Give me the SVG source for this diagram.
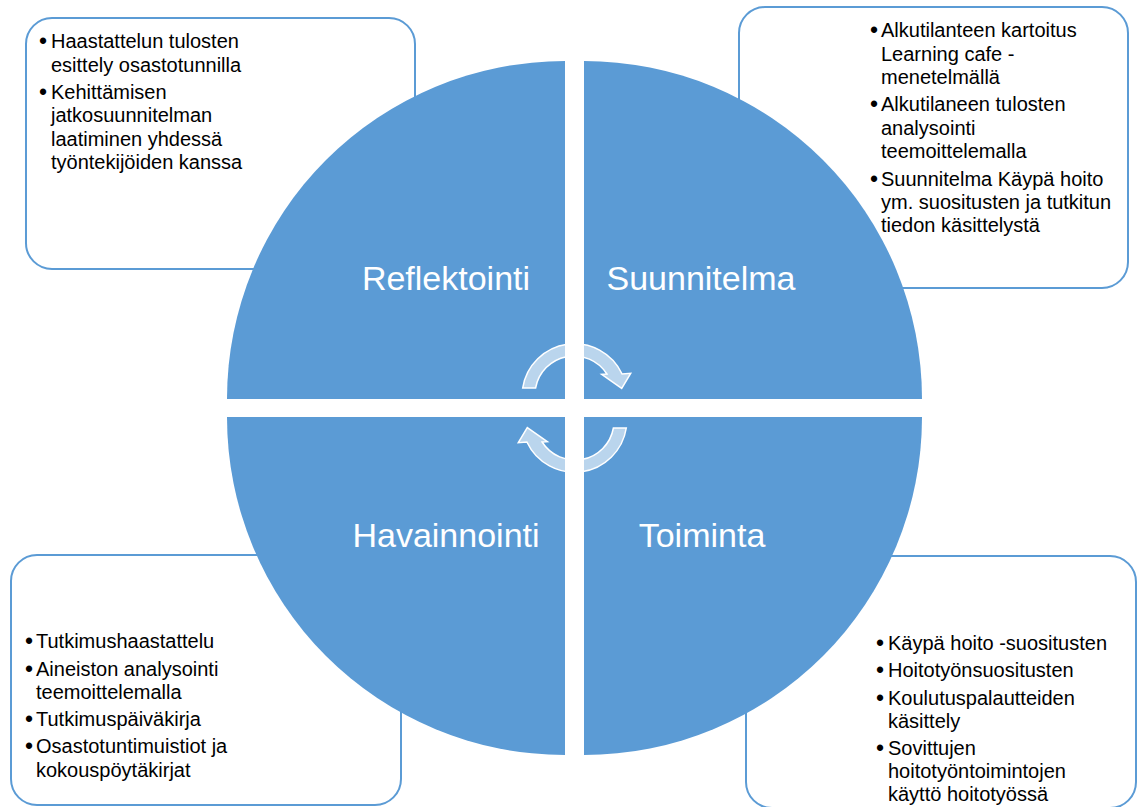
<svg xmlns="http://www.w3.org/2000/svg" width="1142" height="807" viewBox="0 0 1142 807">
<style>
.box{fill:#fff;stroke:#5b9bd5;stroke-width:2}
.q{fill:#5b9bd5}
.t{font-family:"Liberation Sans",Arial,sans-serif;font-size:20px;fill:#000}
.b{font-size:23px}
.lbl{font-family:"Liberation Sans",Arial,sans-serif;font-size:34px;fill:#fff;text-anchor:middle}
.arr{fill:#fff;fill-opacity:0.58;stroke:#fff;stroke-width:1.5;stroke-linejoin:miter}
</style>
<defs>
<path id="circArrow" d="M 522.7 388 A 52.5 52.5 0 0 1 622.1 374 L 630.7 373.3 L 621.7 388.3 L 601.7 374.3 L 606.9 374 A 39 39 0 0 0 535.6 388 Z"/>
</defs>
<rect width="1142" height="807" fill="#fff"/>
<g id="box-reflektointi">
<rect class="box" x="26" y="18" width="389" height="251" rx="26"/>
<text class="t"><tspan class="b" x="39" y="49">•</tspan><tspan x="51" y="48">Haastattelun tulosten</tspan><tspan x="51" y="72">esittely osastotunnilla</tspan><tspan class="b" x="39" y="100">•</tspan><tspan x="51" y="99">Kehittämisen</tspan><tspan x="51" y="122">jatkosuunnitelman</tspan><tspan x="51" y="146">laatiminen yhdessä</tspan><tspan x="51" y="169">työntekijöiden kanssa</tspan></text>
</g>
<g id="box-suunnitelma">
<rect class="box" x="739" y="7" width="389" height="281" rx="26"/>
<text class="t"><tspan class="b" x="870" y="38">•</tspan><tspan x="881" y="37">Alkutilanteen kartoitus</tspan><tspan x="881" y="61">Learning cafe -</tspan><tspan x="881" y="84">menetelmällä</tspan><tspan class="b" x="870" y="112">•</tspan><tspan x="881" y="111">Alkutilaneen tulosten</tspan><tspan x="881" y="135">analysointi</tspan><tspan x="881" y="158">teemoittelemalla</tspan><tspan class="b" x="870" y="187">•</tspan><tspan x="881" y="186">Suunnitelma Käypä hoito</tspan><tspan x="881" y="209">ym. suositusten ja tutkitun</tspan><tspan x="881" y="232">tiedon käsittelystä</tspan></text>
</g>
<g id="box-havainnointi">
<rect class="box" x="11" y="555" width="390" height="250" rx="26"/>
<text class="t"><tspan class="b" x="25" y="649">•</tspan><tspan x="36" y="648">Tutkimushaastattelu</tspan><tspan class="b" x="25" y="677">•</tspan><tspan x="36" y="676">Aineiston analysointi</tspan><tspan x="36" y="699">teemoittelemalla</tspan><tspan class="b" x="25" y="727">•</tspan><tspan x="36" y="726">Tutkimuspäiväkirja</tspan><tspan class="b" x="25" y="754">•</tspan><tspan x="36" y="753">Osastotuntimuistiot ja</tspan><tspan x="36" y="777">kokouspöytäkirjat</tspan></text>
</g>
<g id="box-toiminta">
<rect class="box" x="746" y="556" width="390" height="252" rx="26"/>
<text class="t"><tspan class="b" x="876" y="651">•</tspan><tspan x="888" y="650">Käypä hoito -suositusten</tspan><tspan class="b" x="876" y="678">•</tspan><tspan x="888" y="677">Hoitotyönsuositusten</tspan><tspan class="b" x="876" y="706">•</tspan><tspan x="888" y="705">Koulutuspalautteiden</tspan><tspan x="888" y="728">käsittely</tspan><tspan class="b" x="876" y="756">•</tspan><tspan x="888" y="755">Sovittujen</tspan><tspan x="888" y="778">hoitotyöntoimintojen</tspan><tspan x="888" y="801">käyttö hoitotyössä</tspan></text>
</g>
<g id="q-reflektointi">
<path class="q" d="M 565 399 L 227 399 A 338 338 0 0 1 565 61 Z"/>
<text class="lbl" x="446" y="290">Reflektointi</text>
</g>
<g id="q-suunnitelma">
<path class="q" d="M 584 399 L 584 61 A 338 338 0 0 1 922 399 Z"/>
<text class="lbl" x="701" y="290">Suunnitelma</text>
</g>
<g id="q-toiminta">
<path class="q" d="M 584 417 L 922 417 A 338 338 0 0 1 584 755 Z"/>
<text class="lbl" x="702" y="547">Toiminta</text>
</g>
<g id="q-havainnointi">
<path class="q" d="M 565 417 L 565 755 A 338 338 0 0 1 227 417 Z"/>
<text class="lbl" x="446" y="547">Havainnointi</text>
</g>
<g id="connectors">
<use href="#circArrow" class="arr"/>
<use href="#circArrow" class="arr" transform="rotate(180 574.5 408)"/>
</g>
</svg>
